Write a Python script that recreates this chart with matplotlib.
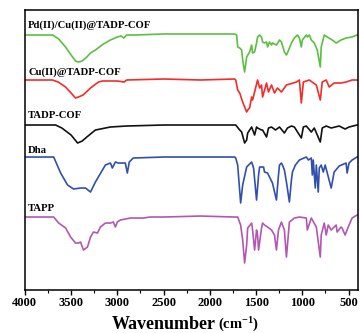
import matplotlib
matplotlib.use('Agg')
import matplotlib.pyplot as plt
from matplotlib.ticker import MultipleLocator

plt.rcParams['font.family'] = ['Liberation Serif', 'DejaVu Serif']
plt.rcParams['font.weight'] = 'bold'
plt.rcParams['mathtext.fontset'] = 'custom'
plt.rcParams['mathtext.rm'] = 'Liberation Serif:bold'
plt.rcParams['mathtext.it'] = 'Liberation Serif:bold'

# spectra (stacked, arbitrary units)
pdcu_wn = [4000, 3700, 3634, 3560, 3500, 3452, 3420, 3380, 3330, 3290, 3237, 3150, 3075, 3000, 2960, 2930, 2900,
           2800, 2500, 2100, 1731, 1710, 1699, 1677, 1656, 1645, 1624, 1602, 1570, 1548, 1538, 1516, 1495, 1484,
           1462, 1441, 1430, 1409, 1387, 1376, 1355, 1333, 1323, 1280, 1247, 1226, 1194, 1172, 1161, 1118, 1086,
           1054, 1032, 1011, 1000, 957, 946, 925, 903, 871, 839, 806, 796, 763, 731, 677, 634, 581, 527, 462, 409, 400]
pdcu_t = [255, 255, 251, 243, 235, 229, 228, 229, 233, 237, 240, 246, 250, 253, 254, 252, 255,
          255, 256, 256, 256, 255, 243, 242, 240, 230, 218, 233, 238, 245, 237, 238, 247, 253,
          255, 253, 248, 247, 248, 243, 248, 245, 247, 245, 250, 248, 238, 235, 237, 247, 252,
          255, 252, 243, 250, 255, 253, 255, 250, 247, 240, 223, 243, 255, 253, 250, 247, 250, 252, 253, 255, 255]

cu_wn = [4000, 3700, 3640, 3560, 3500, 3452, 3420, 3370, 3290, 3204, 3161, 3000, 2925, 2900, 2500, 2100, 1731,
         1720, 1699, 1677, 1645, 1602, 1591, 1570, 1548, 1538, 1516, 1484, 1462, 1441, 1430, 1387, 1366, 1333,
         1301, 1269, 1226, 1172, 1064, 1032, 1011, 989, 925, 849, 806, 785, 742, 710, 656, 581, 527, 462, 409, 400]
cu_t = [210, 210, 208, 203, 197, 192, 193, 195, 202, 208, 209, 209, 208, 210, 211, 210, 211,
        210, 200, 197, 188, 178, 180, 182, 193, 190, 198, 210, 202, 205, 193, 207, 198, 205,
        197, 202, 198, 205, 208, 210, 187, 208, 210, 205, 190, 208, 210, 203, 207, 207, 208, 210, 210, 210]

cof_wn = [4000, 3667, 3600, 3500, 3430, 3380, 3330, 3237, 3075, 2900, 2500, 1731, 1720, 1677, 1656, 1624, 1602,
          1591, 1548, 1516, 1495, 1484, 1441, 1430, 1387, 1366, 1333, 1290, 1247, 1194, 1161, 1118, 1086, 1011,
          989, 957, 903, 871, 806, 785, 742, 688, 602, 538, 495, 409, 400]
cof_t = [165, 165, 162, 155, 147, 149, 153, 160, 163, 164, 165, 165, 165, 160, 158, 147, 150,
         157, 163, 155, 163, 162, 160, 160, 153, 162, 163, 160, 163, 157, 162, 164, 163, 152,
         163, 164, 158, 162, 148, 162, 164, 162, 164, 161, 163, 165, 165]

dha_wn = [4000, 3688, 3613, 3538, 3473, 3400, 3344, 3290, 3269, 3237, 3161, 3129, 3075, 3054, 3021, 2989, 2946,
          2914, 2892, 2871, 2828, 2500, 2100, 1731, 1720, 1699, 1667, 1645, 1602, 1548, 1527, 1495, 1473, 1462,
          1419, 1409, 1376, 1355, 1323, 1280, 1258, 1247, 1226, 1215, 1194, 1172, 1140, 1118, 1107, 1075, 1032,
          957, 935, 903, 892, 882, 860, 849, 828, 817, 796, 774, 753, 688, 656, 602, 527, 516, 495, 462, 409, 400]
dha_t = [133, 133, 117, 105, 101, 102, 102, 98, 102, 108, 120, 125, 127, 122, 128, 127, 127,
         127, 117, 128, 132, 133, 133, 133, 132, 125, 87, 105, 123, 128, 122, 90, 115, 123,
         123, 118, 117, 113, 107, 90, 115, 125, 127, 125, 120, 108, 88, 110, 118, 125, 130,
         133, 130, 132, 115, 130, 102, 125, 98, 122, 125, 118, 125, 102, 118, 124, 127, 117, 127, 130, 133, 133]

tapp_wn = [4000, 3688, 3634, 3559, 3505, 3452, 3419, 3398, 3366, 3323, 3290, 3258, 3215, 3183, 3129, 3075, 3043,
           3021, 3000, 2968, 2860, 2720, 2645, 2500, 2100, 1731, 1699, 1667, 1645, 1624, 1602, 1591, 1548, 1538,
           1516, 1495, 1484, 1473, 1441, 1430, 1409, 1376, 1333, 1301, 1280, 1258, 1226, 1194, 1172, 1140, 1086,
           1032, 957, 946, 903, 849, 806, 796, 763, 742, 720, 688, 634, 624, 581, 570, 538, 495, 462, 409, 400]
tapp_t = [73, 73, 67, 62, 53, 47, 47, 48, 40, 43, 53, 58, 57, 63, 67, 67, 68,
          63, 68, 70, 72, 72, 73, 73, 74, 73, 73, 65, 50, 27, 45, 62, 67, 60,
          40, 60, 55, 40, 62, 67, 65, 63, 60, 55, 40, 60, 68, 60, 33, 68, 72,
          73, 72, 60, 72, 63, 33, 55, 67, 55, 65, 60, 65, 58, 63, 62, 55, 65, 72, 75, 75]

names = ['Pd(II)/Cu(II)@TADP-COF', 'Cu(II)@TADP-COF', 'TADP-COF', 'Dha', 'TAPP']
label_y = [265, 218, 175, 140, 82]
colors = ['#5cbf40', '#f42b2b', '#111111', '#3150ad', '#b257b2']
series = [(pdcu_wn, pdcu_t), (cu_wn, cu_t), (cof_wn, cof_t), (dha_wn, dha_t), (tapp_wn, tapp_t)]

fig = plt.figure(figsize=(3.6, 3.33), dpi=100)
ax = fig.add_axes([0.069, 0.129, 0.925, 0.841])

for (wn, t), c in zip(series, colors):
    ax.plot(wn, t, color=c, lw=1.2)

for name, yy in zip(names, label_y):
    ax.text(3965, yy, name, fontsize=7.7, fontweight='bold', va='center', ha='left')

ax.set_xlim(4000, 400)
ax.set_ylim(0, 280)
ax.xaxis.set_major_locator(MultipleLocator(500))
ax.xaxis.set_minor_locator(MultipleLocator(250))
ax.tick_params(axis='x', which='major', direction='out', length=3.5, width=1, labelsize=9, pad=1.5)
ax.tick_params(axis='x', which='minor', direction='out', length=2, width=0.8)
ax.set_yticks([])
for lbl in ax.get_xticklabels():
    lbl.set_fontweight('bold')
for s in ax.spines.values():
    s.set_linewidth(1.1)

# axis title: big word, smaller unit
fig.text(0.598, 0.012, 'Wavenumber', fontsize=13, fontweight='bold', ha='right', va='baseline')
fig.text(0.606, 0.012, r'(cm$^{-1}$)', fontsize=10.5, fontweight='bold', ha='left', va='baseline')

fig.savefig('out.png', dpi=100)
